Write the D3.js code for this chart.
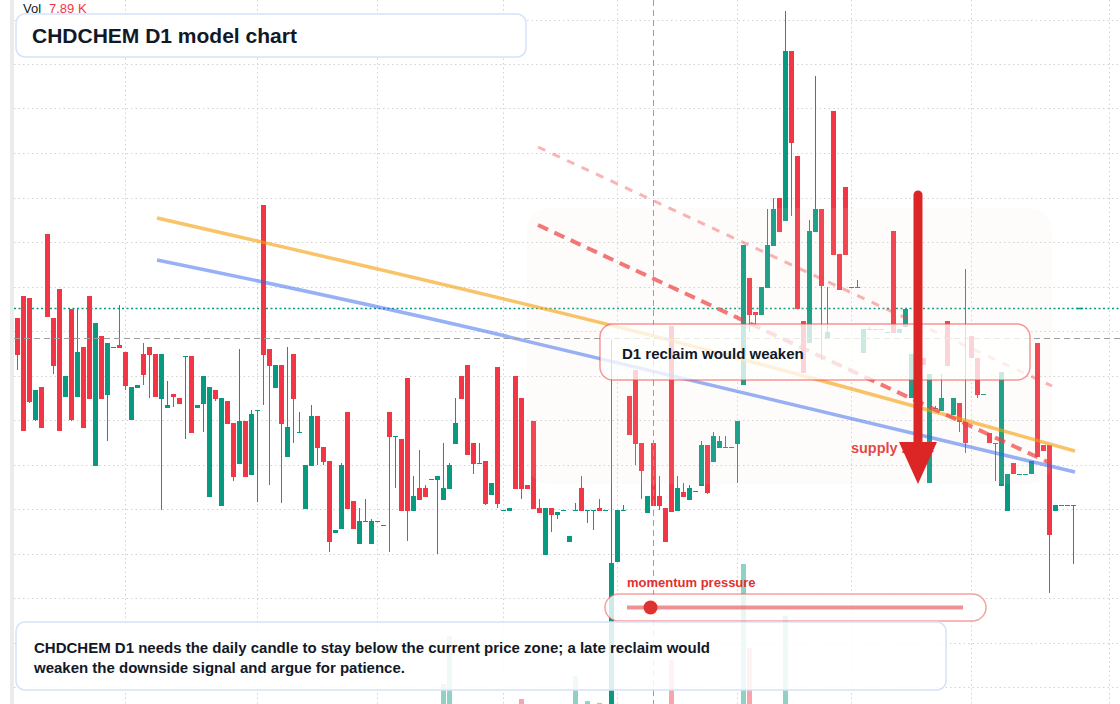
<!DOCTYPE html>
<html><head><meta charset="utf-8">
<script src="https://cdn.jsdelivr.net/npm/d3@7/dist/d3.min.js"></script>
<style>
html,body{margin:0;padding:0;background:#fff;}
svg{display:block;font-family:"Liberation Sans",Arial,Helvetica,sans-serif;}
</style></head><body>
<svg id="chart" width="1120" height="704"></svg>
<script>
// ---- data (daily candles, index 0..176) ----
const opens = [87.0,89.2,89.0,76.8,80.1,95.4,87.0,89.9,79.1,87.9,79.1,84.1,89.2,72.2,85.2,79.3,84.0,84.3,83.6,76.8,
80.0,83.4,84.1,83.4,78.9,78.0,79.4,79.0,83.1,83.2,78.0,78.4,69.1,79.8,68.2,78.7,76.5,72.4,76.7,71.3,
77.8,98.3,83.9,80.0,82.3,73.1,83.4,75.6,67.9,72.2,77.2,74.1,72.7,65.5,65.9,77.6,68.7,64.4,66.7,64.4,
66.7,66.3,77.6,75.2,74.9,81.0,67.7,70.0,70.0,70.9,70.8,68.8,69.9,74.4,81.2,82.3,74.5,72.5,72.7,69.3,
82.1,67.8,67.7,81.2,79.0,70.3,76.7,68.0,63.3,68.0,67.3,67.8,64.6,67.8,70.0,67.8,67.8,68.0,67.8,46.8,
62.6,67.8,79.2,81.8,74.5,67.5,74.5,69.2,68.0,86.2,67.7,69.6,68.8,69.7,70.2,74.3,72.6,74.0,74.1,74.1,
74.4,80.3,91.0,87.6,87.3,90.0,94.2,99.0,96.7,113.7,103.2,86.7,84.5,95.6,97.9,85.0,107.7,93.4,100.1,90.1,
90.1,83.5,85.9,85.9,85.9,85.6,95.7,85.5,86.1,79.0,85.3,83.0,70.5,78.0,77.7,86.7,77.3,78.5,76.6,85.2,
83.0,79.4,75.5,74.5,70.2,67.7,72.5,71.4,71.4,71.4,84.5,74.3,74.3,67.7,68.3,68.3,68.3];
const highs = [87.0,89.2,89.0,79.8,80.1,95.4,87.0,89.9,81.2,87.9,87.9,84.1,89.2,86.5,85.2,84.5,84.1,88.3,83.6,80.1,
80.3,84.5,84.1,83.4,83.4,80.7,79.4,79.0,83.2,83.2,78.3,81.2,80.1,79.8,79.0,78.7,76.5,83.9,76.7,77.8,
77.8,98.3,83.9,82.3,82.3,84.1,83.4,77.6,72.3,78.3,77.2,74.1,72.7,65.8,72.5,77.6,68.7,68.0,68.9,66.9,
66.7,66.3,77.6,75.2,74.9,81.0,71.2,73.8,70.3,70.9,71.2,74.5,72.5,79.0,81.2,82.3,74.5,74.5,72.7,70.5,
82.1,67.8,68.0,81.2,79.0,70.3,76.7,68.9,68.0,68.0,67.6,67.8,65.2,68.5,71.2,67.8,67.8,68.9,67.8,84.9,
67.8,68.3,79.2,81.8,74.5,69.2,74.5,71.2,68.0,86.2,71.2,70.5,70.3,69.7,74.7,74.3,75.6,75.2,75.2,74.1,
76.7,94.3,91.0,87.6,90.1,97.9,99.0,99.0,117.7,113.7,103.2,86.7,96.8,111.2,97.9,90.1,107.7,93.4,100.1,90.1,
90.8,85.9,86.1,85.9,85.9,85.6,95.7,85.9,87.9,83.4,85.3,83.0,81.4,78.2,81.4,86.7,79.0,78.5,91.9,85.2,
83.0,79.4,75.5,74.5,81.6,71.4,72.5,71.4,71.4,72.7,84.5,74.3,74.3,68.3,68.3,68.3,68.3];
const lows = [81.8,75.7,78.5,76.7,76.0,87.1,81.4,75.7,79.1,76.7,79.1,76.0,78.9,72.2,78.9,74.7,84.0,84.0,79.8,76.8,
80.0,80.3,79.0,79.1,67.8,78.0,78.1,78.4,74.9,75.5,78.0,75.6,69.1,78.7,68.2,76.4,70.7,72.4,71.1,71.3,
68.6,78.3,70.3,80.0,68.5,73.1,74.5,75.6,67.9,72.2,72.3,72.3,63.6,65.5,65.9,67.9,65.9,64.4,66.7,64.4,
66.7,66.3,63.6,70.0,67.7,64.7,67.7,68.8,69.1,70.9,63.4,68.8,69.9,74.4,78.9,73.3,71.4,72.5,68.3,69.3,
68.0,67.8,67.7,69.9,68.9,69.9,67.9,67.5,63.3,65.6,66.9,67.8,64.6,67.8,67.7,66.5,65.8,67.7,67.8,46.8,
62.6,67.8,75.3,72.3,68.9,67.5,68.2,67.8,64.6,67.6,67.7,69.1,68.8,69.7,70.2,69.4,72.6,74.0,74.1,74.1,
70.5,80.3,85.6,86.3,87.3,90.0,94.2,95.6,96.7,97.2,87.9,81.5,84.5,95.6,82.8,85.0,93.3,89.8,93.3,90.1,
90.1,83.5,85.9,85.9,85.9,85.6,85.5,85.5,86.1,79.0,79.3,82.3,70.5,78.0,77.7,82.2,77.3,75.6,73.5,83.0,
79.0,79.4,74.5,70.7,70.2,67.7,71.4,71.4,71.4,71.4,73.1,73.7,59.5,67.7,68.3,68.3,62.4];
const closes = [83.3,75.7,78.6,79.8,76.0,87.1,82.2,75.7,81.2,76.8,83.6,76.0,78.9,86.5,78.9,84.5,84.1,84.0,80.2,80.1,
80.3,81.3,83.3,79.1,83.4,78.3,79.1,78.4,83.2,75.5,78.3,81.2,80.1,78.9,79.0,76.4,71.1,76.7,71.1,77.4,
77.8,83.3,82.2,82.3,76.4,76.1,78.9,75.6,72.3,77.2,74.0,72.6,64.6,65.8,72.3,67.9,65.9,66.7,66.7,66.7,
66.7,66.3,75.1,75.2,67.7,67.7,69.2,68.8,69.1,70.9,71.2,70.0,72.3,76.5,78.9,73.3,72.4,72.5,68.4,70.5,
68.4,67.8,68.0,69.9,69.9,69.9,67.9,67.5,68.0,67.3,67.6,67.8,65.2,67.8,67.7,67.8,67.8,67.7,67.8,62.5,
67.8,67.8,75.3,74.4,71.7,69.2,68.2,68.2,64.6,67.6,70.0,69.1,70.0,69.7,74.3,69.5,75.2,74.7,74.1,74.1,
76.7,94.3,87.3,87.3,90.1,94.3,97.9,95.6,113.7,104.5,87.9,81.5,95.7,97.9,90.2,85.6,93.3,89.8,93.3,90.1,
90.1,85.9,85.9,85.9,85.9,85.6,85.5,85.9,87.9,83.4,79.3,82.3,81.4,78.0,79.0,82.2,79.0,76.6,74.5,83.0,
79.3,79.4,74.5,74.5,81.6,71.4,71.4,71.4,71.4,72.7,73.1,73.7,65.3,68.3,68.3,68.3,68.3];
// volume in thousands
const volumes = [18,24,21,12,15,31,14,26,9,22, 17,13,19,28,11,16,4,6,12,14,
5,8,7,10,22,6,5,4,9,18, 3,11,25,6,27,9,15,19,14,17,
8,44,16,10,21,13,12,5,14,11, 10,7,26,4,23,20,9,8,6,7,
2,3,15,5,19,31,8,9,6,2, 12,120,280,33,11,29,8,4,16,6,
35,2,5,27,70,7,24,9,38,6, 5,3,12,147,4,63,6,57,2,310,
41,4,17,26,13,11,7.89,8,16,200, 12,6,9,2,18,14,15,7,4,3,
22,520,240,19,36,48,44,39,347,46, 41,22,35,27,33,9,29,18,23,3,
5,11,4,3,2,3,26,5,8,21, 24,7,30,4,12,15,9,11,28,13,
14,2,8,10,31,12,6,2,3,9, 27,5,37,6,2,2,14];
const monthStarts = [18,40,60,81,100,120,139,159,182];
const gridPrices = [116.8,112.35,107.9,103.45,99.0,94.55,90.1,85.65,81.2,76.75,72.3,67.85,63.4,58.95,54.5,50.05];
const crossIndex = 106, crossPrice = 85.0, markLevel = 87.9;
const orangeTrend = [[23.25,97.0],[102.08,85.8],[176.25,73.7]];
const blueTrend = [[23.25,92.8],[77.08,85.8],[176.25,71.6]];
const pinkDash = [[86.75,104.1],[172.42,80.2]];
const redDash = [[86.75,96.3],[172.08,72.5]];
const supplyZone = {i0:84.9, i1:172.4, pTop:98.0, pBot:70.4};
const reclaimBox = {i0:97.08, i1:168.75, pTop:86.4, pBot:80.8};
const arrow = {i:150.08, pTop:99.3, pHead:74.6, pTip:70.4};
const supplyLabel = {i:138.9, p:73.5};
const momentum = 0.07;
const titleText = "CHDCHEM D1 model chart";
const noteLines = ["CHDCHEM D1 needs the daily candle to stay below the current price zone; a late reclaim would",
                   "weaken the downside signal and argue for patience."];

// ---- drawing ----
const W = 1120, H = 704;
const UP = '#089981', DN = '#f23645';
const svg = d3.select('#chart');
const x = d3.scaleLinear().domain([-2.9167, 183.75]).range([0, W]);
const y = d3.scaleLinear().domain([48.4, 118.8]).range([H, 0]);
const v = d3.scaleLinear().domain([0, 600]).range([720, 540]);
const n = closes.length, idx = d3.range(n);
const up = i => closes[i] >= opens[i];
const cx = i => Math.round(x(i) - 0.5) + 0.5;
const py = p => Math.round(y(p) - 0.5) + 0.5;

svg.append('rect').attr('width', W).attr('height', H).attr('fill', '#fff');
svg.append('rect').attr('x', 10).attr('y', 0).attr('width', 4).attr('height', H).attr('fill', '#ebebeb');

const grid = svg.append('g').attr('stroke', '#d2d2d2').attr('stroke-width', 1).attr('stroke-dasharray', '1.5 3');
grid.selectAll('line.h').data(gridPrices).join('line').attr('class', 'h')
  .attr('x1', 14).attr('x2', W).attr('y1', d => py(d)).attr('y2', d => py(d));
grid.selectAll('line.v').data(monthStarts).join('line').attr('class', 'v')
  .attr('x1', d => cx(d)).attr('x2', d => cx(d)).attr('y1', 0).attr('y2', H);

// volume
svg.append('g').selectAll('rect').data(idx).join('rect')
  .attr('x', i => Math.round(x(i) - 2.5)).attr('width', 5)
  .attr('y', i => v(volumes[i])).attr('height', i => v(0) - v(volumes[i]))
  .attr('fill', i => up(i) ? UP : DN).attr('fill-opacity', 0.45);

// level line
svg.append('line').attr('x1', 14).attr('x2', W).attr('y1', py(markLevel)).attr('y2', py(markLevel))
  .attr('stroke', UP).attr('stroke-width', 1.5).attr('stroke-dasharray', '2 2.5');
svg.append('line').attr('x1', x(176.6)).attr('x2', x(177.6)).attr('y1', py(markLevel)).attr('y2', py(markLevel))
  .attr('stroke', UP).attr('stroke-width', 1.5);

// candles
const cg = svg.append('g');
cg.selectAll('line').data(idx).join('line')
  .attr('x1', cx).attr('x2', cx).attr('y1', i => y(highs[i])).attr('y2', i => y(lows[i]))
  .attr('stroke', i => up(i) ? UP : DN).attr('stroke-width', 1);
cg.selectAll('rect').data(idx).join('rect')
  .attr('x', i => Math.round(x(i) - 2.5)).attr('width', 5)
  .attr('y', i => y(Math.max(opens[i], closes[i])))
  .attr('height', i => Math.max(1, Math.abs(y(opens[i]) - y(closes[i]))))
  .attr('fill', i => up(i) ? UP : DN);

// supply zone shading
svg.append('rect').attr('x', x(supplyZone.i0)).attr('y', y(supplyZone.pTop))
  .attr('width', x(supplyZone.i1) - x(supplyZone.i0)).attr('height', y(supplyZone.pBot) - y(supplyZone.pTop))
  .attr('rx', 22).attr('fill', '#f7e1d0').attr('fill-opacity', 0.1);

// trend lines
const curve = d3.line().x(d => x(d[0])).y(d => y(d[1])).curve(d3.curveNatural);
const straight = d3.line().x(d => x(d[0])).y(d => y(d[1]));
svg.append('path').attr('d', curve(orangeTrend)).attr('fill', 'none').attr('stroke', '#f59e0b').attr('stroke-opacity', 0.62).attr('stroke-width', 3.5);
svg.append('path').attr('d', curve(blueTrend)).attr('fill', 'none').attr('stroke', '#2f63ee').attr('stroke-opacity', 0.5).attr('stroke-width', 3.5);
svg.append('path').attr('d', straight(pinkDash)).attr('fill', 'none').attr('stroke', '#ef4444').attr('stroke-opacity', 0.4).attr('stroke-width', 3).attr('stroke-dasharray', '8 8');
svg.append('path').attr('d', straight(redDash)).attr('fill', 'none').attr('stroke', '#ef4444').attr('stroke-opacity', 0.72).attr('stroke-width', 4).attr('stroke-dasharray', '11 7');

// crosshair
const ch = svg.append('g').attr('stroke', '#9e9e9e').attr('stroke-width', 1).attr('stroke-dasharray', '6 4');
ch.append('line').attr('x1', cx(crossIndex)).attr('x2', cx(crossIndex)).attr('y1', 0).attr('y2', H);
ch.append('line').attr('x1', 14).attr('x2', W).attr('y1', py(crossPrice)).attr('y2', py(crossPrice));

// reclaim box
svg.append('rect').attr('x', x(reclaimBox.i0)).attr('y', y(reclaimBox.pTop))
  .attr('width', x(reclaimBox.i1) - x(reclaimBox.i0)).attr('height', y(reclaimBox.pBot) - y(reclaimBox.pTop))
  .attr('rx', 13).attr('fill', '#fff').attr('fill-opacity', 0.77)
  .attr('stroke', '#ef4444').attr('stroke-opacity', 0.55).attr('stroke-width', 1.5);
svg.append('text').attr('x', x(reclaimBox.i0) + 22).attr('y', y(reclaimBox.pTop) + 35)
  .attr('font-size', 15).attr('font-weight', 700).attr('fill', '#111827').text('D1 reclaim would weaken');

// supply label + arrow
svg.append('text').attr('x', x(supplyLabel.i)).attr('y', y(supplyLabel.p))
  .attr('font-size', 14.5).attr('font-weight', 700).attr('fill', '#dc2626').attr('fill-opacity', 0.85).text('supply zone');
const ax = x(arrow.i);
svg.append('line').attr('x1', ax).attr('x2', ax).attr('y1', y(arrow.pTop)).attr('y2', y(arrow.pHead) + 2)
  .attr('stroke', '#dc2626').attr('stroke-width', 9).attr('stroke-linecap', 'round');
svg.append('path').attr('d', `M${ax - 19},${y(arrow.pHead)}L${ax + 19},${y(arrow.pHead)}L${ax},${y(arrow.pTip)}Z`).attr('fill', '#dc2626');

// title box
svg.append('rect').attr('x', 16).attr('y', 14).attr('width', 510).attr('height', 43).attr('rx', 9)
  .attr('fill', '#fff').attr('stroke', '#d5e2f7').attr('stroke-width', 1.5);
svg.append('text').attr('x', 32).attr('y', 43).attr('font-size', 21).attr('font-weight', 700).attr('fill', '#111827').text(titleText);

// momentum pill
const mScale = d3.scaleLinear().domain([0, 1]).range([627, 963]);
svg.append('text').attr('x', 627).attr('y', 587).attr('font-size', 13).attr('font-weight', 700).attr('fill', '#e03131').text('momentum pressure');
svg.append('rect').attr('x', 605).attr('y', 594).attr('width', 381).attr('height', 27).attr('rx', 13.5)
  .attr('fill', '#fff').attr('fill-opacity', 0.8).attr('stroke', '#ef4444').attr('stroke-opacity', 0.5).attr('stroke-width', 1.5);
svg.append('line').attr('x1', mScale(0)).attr('x2', mScale(1)).attr('y1', 607.5).attr('y2', 607.5)
  .attr('stroke', '#e5484d').attr('stroke-opacity', 0.6).attr('stroke-width', 4);
svg.append('circle').attr('cx', mScale(momentum)).attr('cy', 607.5).attr('r', 7).attr('fill', '#e03131');

// note box
svg.append('rect').attr('x', 16).attr('y', 622).attr('width', 930).attr('height', 68).attr('rx', 9)
  .attr('fill', '#fff').attr('fill-opacity', 0.86).attr('stroke', '#d5e2f7').attr('stroke-width', 1.5);
svg.append('g').selectAll('text').data(noteLines).join('text')
  .attr('x', 34).attr('y', (d, k) => 653 + k * 20).attr('font-size', 15).attr('font-weight', 700).attr('fill', '#111827').text(d => d);

// volume legend
const vl = svg.append('text').attr('x', 23).attr('y', 13).attr('font-size', 13);
vl.append('tspan').attr('fill', '#131722').text('Vol');
vl.append('tspan').attr('x', 49).attr('fill', DN).text(d3.format('.2f')(volumes[crossIndex]) + ' K');
</script>
</body></html>
